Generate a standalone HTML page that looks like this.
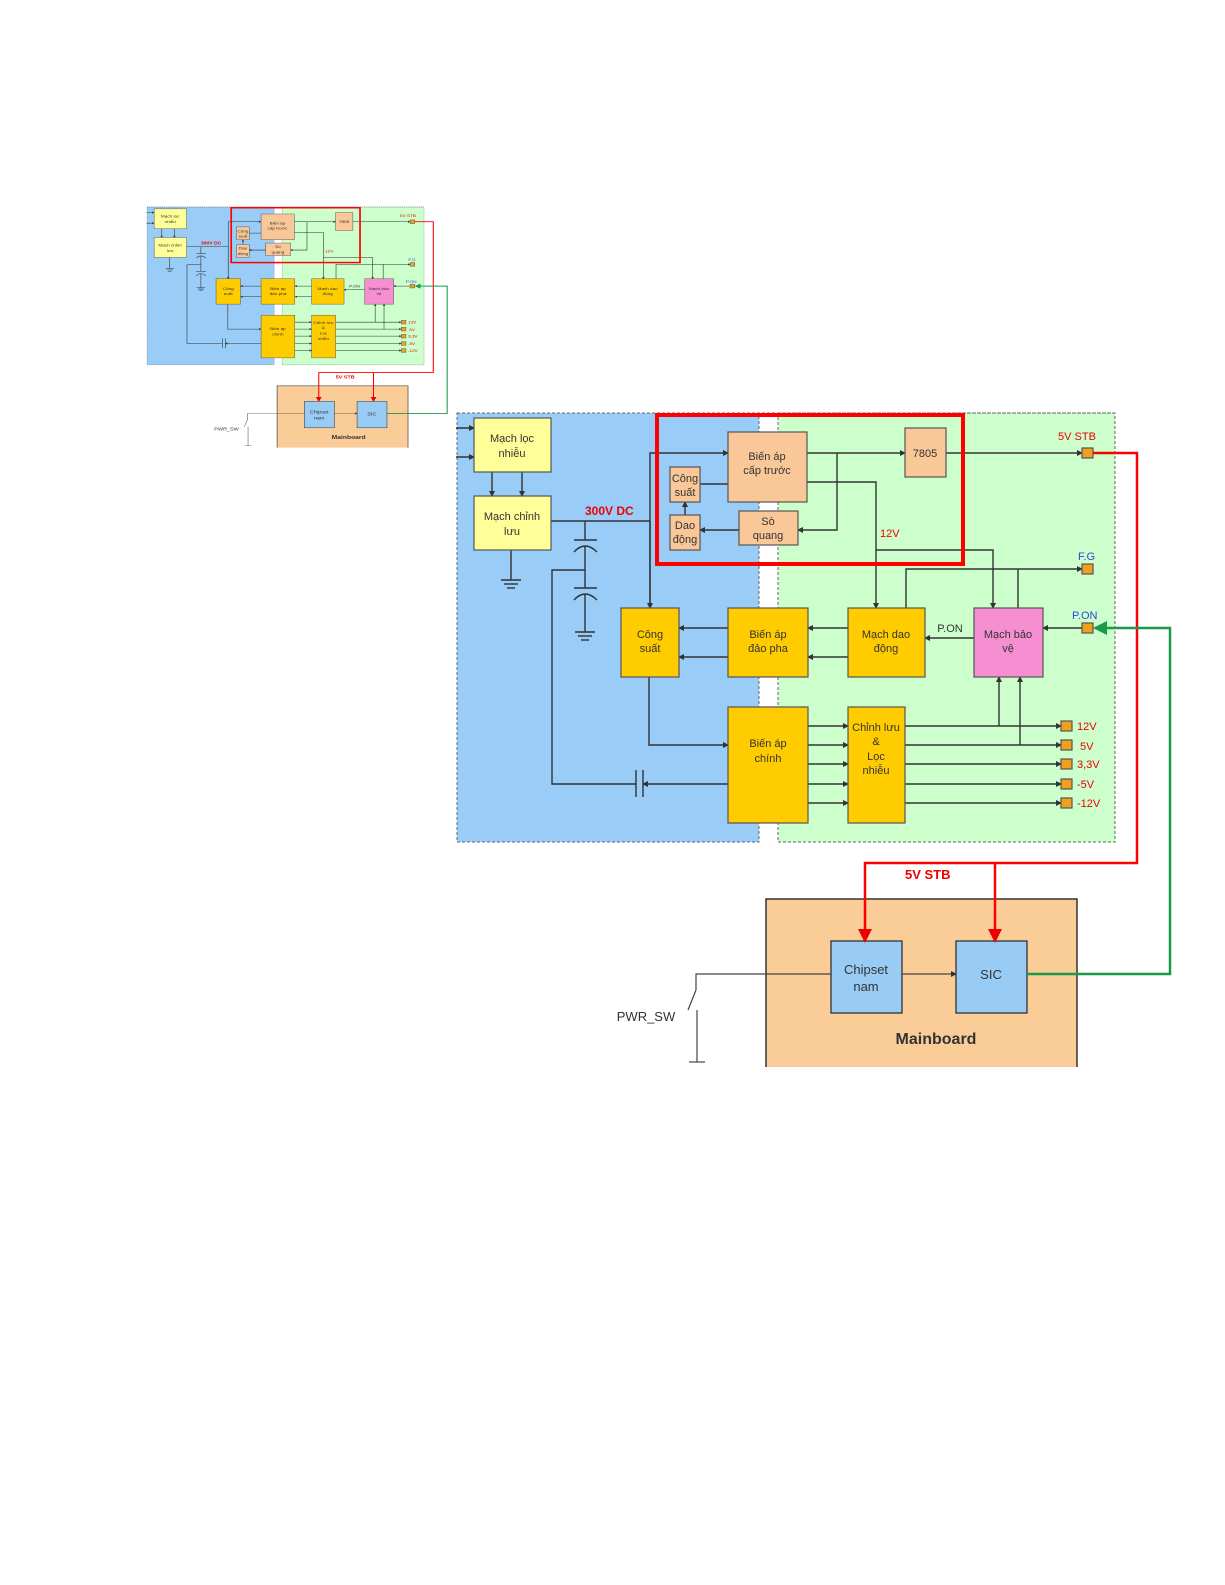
<!DOCTYPE html>
<html><head><meta charset="utf-8"><style>
html,body{margin:0;padding:0;background:#fff;}
svg{display:block;}
text{font-family:"Liberation Sans",sans-serif;}
</style></head><body>
<svg width="1225" height="1585" viewBox="0 0 1225 1585" xmlns="http://www.w3.org/2000/svg">
<defs>
<marker id="a" markerWidth="6" markerHeight="6" refX="5" refY="3" orient="auto" markerUnits="userSpaceOnUse"><path d="M0,0 L6,3 L0,6z" fill="#333"/></marker>
<marker id="ar" markerWidth="14" markerHeight="14" refX="12" refY="7" orient="auto" markerUnits="userSpaceOnUse"><path d="M0,0 L14,7 L0,14z" fill="#e00"/></marker>
<marker id="ag" markerWidth="14" markerHeight="14" refX="12" refY="7" orient="auto" markerUnits="userSpaceOnUse"><path d="M0,0 L14,7 L0,14z" fill="#1a9a4a"/></marker>
<clipPath id="cp"><rect x="456" y="400" width="720" height="667"/></clipPath>
<g id="dg" clip-path="url(#cp)">
<rect x="457" y="413" width="302" height="429" fill="#99ccf7" stroke="#666" stroke-dasharray="3,2"/>
<rect x="778" y="413" width="337" height="429" fill="#ccffcc" stroke="#666" stroke-dasharray="3,2"/>
<line x1="457" y1="413" x2="1115" y2="413" stroke="#666" stroke-dasharray="3,2"/>
<g stroke="#333" stroke-width="1.4" fill="none">
<line x1="440" y1="428" x2="474" y2="428" marker-end="url(#a)"/>
<line x1="440" y1="457" x2="474" y2="457" marker-end="url(#a)"/>
<line x1="492" y1="472" x2="492" y2="496" marker-end="url(#a)"/>
<line x1="522" y1="472" x2="522" y2="496" marker-end="url(#a)"/>
<line x1="511" y1="550" x2="511" y2="580"/>
<line x1="501" y1="580" x2="521" y2="580"/><line x1="504" y1="584" x2="518" y2="584"/><line x1="507" y1="588" x2="515" y2="588"/>
<line x1="551" y1="521" x2="650" y2="521"/>
<line x1="585" y1="521" x2="585" y2="540"/><line x1="574" y1="540" x2="597" y2="540"/>
<path d="M574,552 Q585,540 597,552"/>
<line x1="585" y1="546" x2="585" y2="588"/><line x1="574" y1="588" x2="597" y2="588"/>
<path d="M574,600 Q585,588 597,600"/>
<line x1="585" y1="594" x2="585" y2="632"/>
<line x1="575" y1="632" x2="595" y2="632"/><line x1="578" y1="636" x2="592" y2="636"/><line x1="581" y1="640" x2="589" y2="640"/>
<polyline points="585,570 552,570 552,784 636,784"/>
<line x1="636" y1="770" x2="636" y2="797"/><line x1="643" y1="770" x2="643" y2="797"/>
<line x1="728" y1="784" x2="643" y2="784" marker-end="url(#a)"/>
<polyline points="650,608 650,453 728,453" marker-end="url(#a)"/>
<line x1="650" y1="521" x2="650" y2="608" marker-end="url(#a)"/>
<line x1="700" y1="484" x2="728" y2="484"/>
<line x1="685" y1="515" x2="685" y2="502" marker-end="url(#a)"/>
<line x1="739" y1="530" x2="700" y2="530" marker-end="url(#a)"/>
<line x1="807" y1="453" x2="905" y2="453" marker-end="url(#a)"/>
<polyline points="837,453 837,530 798,530" marker-end="url(#a)"/>
<polyline points="807,482 876,482 876,608" marker-end="url(#a)"/>
<polyline points="876,550 993,550 993,608" marker-end="url(#a)"/>
<line x1="946" y1="453" x2="1082" y2="453" marker-end="url(#a)"/>
<polyline points="906,608 906,569 1082,569" marker-end="url(#a)"/>
<line x1="1018" y1="569" x2="1018" y2="608"/>
<line x1="1082" y1="628" x2="1043" y2="628" marker-end="url(#a)"/>
<line x1="974" y1="638" x2="925" y2="638" marker-end="url(#a)"/>
<line x1="848" y1="628" x2="808" y2="628" marker-end="url(#a)"/>
<line x1="848" y1="657" x2="808" y2="657" marker-end="url(#a)"/>
<line x1="728" y1="628" x2="679" y2="628" marker-end="url(#a)"/>
<line x1="728" y1="657" x2="679" y2="657" marker-end="url(#a)"/>
<polyline points="649,677 649,745 728,745" marker-end="url(#a)"/>
<line x1="808" y1="726" x2="848" y2="726" marker-end="url(#a)"/>
<line x1="808" y1="745" x2="848" y2="745" marker-end="url(#a)"/>
<line x1="808" y1="764" x2="848" y2="764" marker-end="url(#a)"/>
<line x1="808" y1="784" x2="848" y2="784" marker-end="url(#a)"/>
<line x1="808" y1="803" x2="848" y2="803" marker-end="url(#a)"/>
<line x1="905" y1="726" x2="1061" y2="726" marker-end="url(#a)"/>
<line x1="905" y1="745" x2="1061" y2="745" marker-end="url(#a)"/>
<line x1="905" y1="764" x2="1061" y2="764" marker-end="url(#a)"/>
<line x1="905" y1="784" x2="1061" y2="784" marker-end="url(#a)"/>
<line x1="905" y1="803" x2="1061" y2="803" marker-end="url(#a)"/>
<line x1="999" y1="726" x2="999" y2="677" marker-end="url(#a)"/>
<line x1="1020" y1="745" x2="1020" y2="677" marker-end="url(#a)"/>
</g>
<g stroke="#555" stroke-width="1.2">
<rect x="474" y="418" width="77" height="54" fill="#ffff99"/>
<rect x="474" y="496" width="77" height="54" fill="#ffff99"/>
<rect x="728" y="432" width="79" height="70" fill="#fac898"/>
<rect x="670" y="467" width="30" height="35" fill="#fac898"/>
<rect x="670" y="515" width="30" height="35" fill="#fac898"/>
<rect x="739" y="511" width="59" height="34" fill="#fac898"/>
<rect x="905" y="428" width="41" height="49" fill="#fac898"/>
<rect x="621" y="608" width="58" height="69" fill="#ffcc00"/>
<rect x="728" y="608" width="80" height="69" fill="#ffcc00"/>
<rect x="848" y="608" width="77" height="69" fill="#ffcc00"/>
<rect x="974" y="608" width="69" height="69" fill="#f58fd2"/>
<rect x="728" y="707" width="80" height="116" fill="#ffcc00"/>
<rect x="848" y="707" width="57" height="116" fill="#ffcc00"/>
<rect x="1082" y="448" width="11" height="10" fill="#f0a020"/>
<rect x="1082" y="564" width="11" height="10" fill="#f0a020"/>
<rect x="1082" y="623" width="11" height="10" fill="#f0a020"/>
<rect x="1061" y="721" width="11" height="10" fill="#f0a020"/>
<rect x="1061" y="740" width="11" height="10" fill="#f0a020"/>
<rect x="1061" y="759" width="11" height="10" fill="#f0a020"/>
<rect x="1061" y="779" width="11" height="10" fill="#f0a020"/>
<rect x="1061" y="798" width="11" height="10" fill="#f0a020"/>
</g>
<rect x="657" y="415" width="306" height="149" fill="none" stroke="#f00" stroke-width="4"/>
<g font-size="11" fill="#333" text-anchor="middle">
<text x="512" y="442">Mạch lọc</text><text x="512" y="457">nhiễu</text>
<text x="512" y="520">Mạch chỉnh</text><text x="512" y="535">lưu</text>
<text x="767" y="460">Biến áp</text><text x="767" y="474">cấp trước</text>
<text x="685" y="482">Công</text><text x="685" y="496">suất</text>
<text x="685" y="529">Dao</text><text x="685" y="543">động</text>
<text x="768" y="525">Sò</text><text x="768" y="539">quang</text>
<text x="925" y="457">7805</text>
<text x="650" y="638">Công</text><text x="650" y="652">suất</text>
<text x="768" y="638">Biến áp</text><text x="768" y="652">đảo pha</text>
<text x="886" y="638">Mạch dao</text><text x="886" y="652">động</text>
<text x="1008" y="638">Mạch bảo</text><text x="1008" y="652">vệ</text>
<text x="768" y="747">Biến áp</text><text x="768" y="762">chính</text>
<text x="876" y="731">Chỉnh lưu</text><text x="876" y="745">&amp;</text><text x="876" y="760">Lọc</text><text x="876" y="774">nhiễu</text>
<text x="950" y="632">P.ON</text>
</g>
<g font-size="11" fill="#e00">
<text x="585" y="515" font-weight="bold" font-size="12">300V DC</text>
<text x="880" y="537">12V</text>
<text x="1058" y="440">5V STB</text>
<text x="1077" y="730">12V</text><text x="1080" y="750">5V</text><text x="1077" y="768">3,3V</text><text x="1077" y="788">-5V</text><text x="1077" y="807">-12V</text>
</g>
<g font-size="11" fill="#3344dd"><text x="1078" y="560">F.G</text><text x="1072" y="619">P.ON</text></g>
<rect x="766" y="899" width="311" height="180" fill="#f9cc98" stroke="#333" stroke-width="1.5"/>
<rect x="831" y="941" width="71" height="72" fill="#99ccf5" stroke="#333" stroke-width="1.3"/>
<rect x="956" y="941" width="71" height="72" fill="#99ccf5" stroke="#333" stroke-width="1.3"/>
<g stroke="#444" stroke-width="1.2" fill="none">
<polyline points="696,990 696,974 831,974"/>
<line x1="902" y1="974" x2="956" y2="974" marker-end="url(#a)"/>
<line x1="696" y1="990" x2="688" y2="1010"/>
<line x1="697" y1="1010" x2="697" y2="1062"/>
<line x1="689" y1="1062" x2="705" y2="1062"/>
</g>
<polyline points="1093,453 1137,453 1137,863 865,863 865,941" fill="none" stroke="#f00" stroke-width="2.5" marker-end="url(#ar)"/>
<line x1="995" y1="863" x2="995" y2="941" stroke="#f00" stroke-width="2.5" marker-end="url(#ar)"/>
<polyline points="1027,974 1170,974 1170,628 1095,628" fill="none" stroke="#1a9a4a" stroke-width="2.5" marker-end="url(#ag)"/>
<g font-size="13" fill="#333" text-anchor="middle">
<text x="866" y="974">Chipset</text><text x="866" y="991">nam</text>
<text x="991" y="979">SIC</text>
<text x="646" y="1021">PWR_SW</text>
<text x="936" y="1044" font-weight="bold" font-size="16">Mainboard</text>
</g>
<text x="905" y="879" font-size="13" font-weight="bold" fill="#e00">5V STB</text>
</g>
</defs>
<use href="#dg"/>
<g transform="translate(147,207) scale(0.421,0.368) translate(-457,-413)"><use href="#dg"/></g>
</svg>
</body></html>
